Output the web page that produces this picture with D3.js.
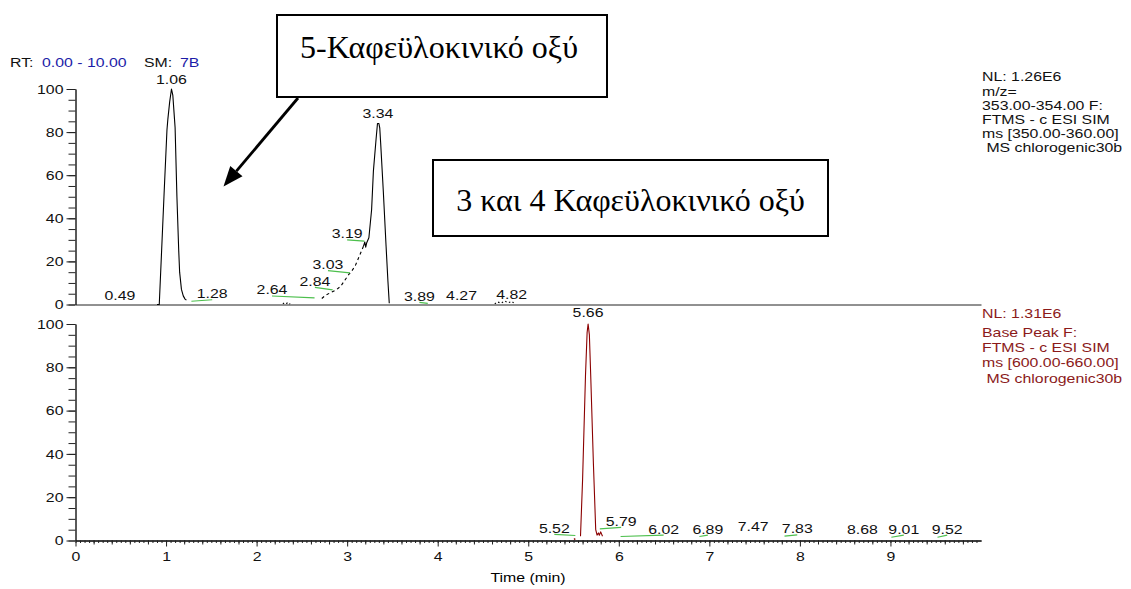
<!DOCTYPE html>
<html><head><meta charset="utf-8">
<script src="https://cdn.jsdelivr.net/npm/d3@7"></script>
<style>body{margin:0;background:#fff}svg{display:block}</style>
</head><body><svg id="c" width="1131" height="589"></svg>
<script>
// ---------------- DATA ----------------
// Top trace (m/z 353-354), relative abundance vs time (min)
const topSolidT = [0.90,0.925,0.95,0.98,1.01,1.02,1.04,1.06,1.075,1.09,1.10,1.12,1.14,1.15,1.17,1.19,1.21,1.225];
const topSolidV = [0,0,24,53,81,86,94,100,97,88,82,50,25,15,7,4,2.5,2];
const topDash1T = [2.29,2.31,2.33,2.35,2.37];
const topDash1V = [0.3,0.9,0.5,1.0,0.2];
const topDash2T = [2.72,2.76,2.82,2.88,2.93,2.97,3.01,3.05,3.09,3.12,3.15,3.18];
const topDash2V = [2.8,4.2,5.6,6.8,8.5,11,13.5,15.5,18,21,24,27];
const topPeak2T = [3.18,3.195,3.205,3.215,3.24,3.27,3.29,3.32,3.335,3.35,3.36,3.37,3.40,3.43,3.45,3.465];
const topPeak2V = [27,29,26.6,28.5,31,44,62,77,84,84,82,75,52,27,11,0.6];
const topDash3T = [4.63,4.66,4.70,4.74,4.78,4.82,4.85];
const topDash3V = [0.3,1.2,0.6,1.6,0.8,1.4,0.3];
// Bottom trace (base peak 600-660)
const botDotT = [5.505,5.52];
const botDotV = [0.5,0.8];
const botT = [5.577,5.60,5.632,5.65,5.661,5.675,5.69,5.72,5.745,5.76,5.775,5.785,5.80,5.82];
const botV = [2,28,76,96,100,95,76,35,5,2.5,3.5,2.4,4,2];
// Peak labels: text, label position (time, abundance), leader start abundance at peak
const topLabelText = ["0.49","1.06","1.28","2.64","2.84","3.03","3.19","3.34","3.89","4.27","4.82"];
const topLabelT    = [0.49,1.06,1.51,2.17,2.644,2.788,3.0,3.34,3.798,4.263,4.816];
const topLabelV    = [2.0,102.5,2.9,4.65,8.65,16.4,30.7,86.5,1.7,2.0,2.47];
const topLeaderV   = [null,null,1.5,3.1,6.8,14.7,29.4,null,0.5,null,null];
const botLabelText = ["5.52","5.66","5.79","6.02","6.89","7.47","7.83","8.68","9.01","9.52"];
const botLabelT    = [5.288,5.66,6.026,6.495,6.983,7.483,7.971,8.69,9.147,9.627];
const botLabelV    = [3.5,103.4,6.8,3.2,3.2,4.3,3.3,2.8,3.2,3.2];
const botLeaderV   = [2.3,null,5.4,1.85,1.85,null,2.0,null,1.5,1.5];
// Axis ticks
const yMajorTicks = [0,20,40,60,80,100];
const xMajorTicks = [0,1,2,3,4,5,6,7,8,9];
// Texts
const topInfo = ["NL: 1.26E6","m/z=","353.00-354.00 F:","FTMS - c ESI SIM","ms [350.00-360.00]"," MS chlorogenic30b"];
const botInfo = ["NL: 1.31E6","Base Peak F:","FTMS - c ESI SIM","ms [600.00-660.00]"," MS chlorogenic30b"];
const box1Text = "5-Καφεϋλοκινικό οξύ";
const box2Text = "3 και 4 Καφεϋλοκινικό οξύ";

// ---------------- DRAW ----------------
const SX = 1.22;
const FONT = "'Liberation Sans', Arial, sans-serif";
const SERIF = "'Liberation Serif', 'Times New Roman', serif";
const BLUE = "#1c1ca8", DARKRED = "#8b1a1a", GREEN = "#4cbf4c", TRACE_RED = "#8b0000";
const svg = d3.select("#c");
const x = d3.scaleLinear().domain([0,10]).range([75.5,981]);
const yT = d3.scaleLinear().domain([0,100]).range([304.5,89]);
const yB = d3.scaleLinear().domain([0,100]).range([540.5,324]);

function txt(px, py, str, color, anchor) {
  return svg.append("text")
    .attr("transform", `translate(${px},${py}) scale(${SX},1)`)
    .attr("text-anchor", anchor || "middle")
    .attr("fill", color || "#000")
    .style("font-family", FONT).style("font-size", "13px")
    .style("white-space", "pre")
    .text(str);
}

function yAxis(yScale) {
  svg.append("g").attr("transform","translate(75.5,0)")
    .call(d3.axisLeft(yScale).tickValues(d3.range(0,101,5)).tickSize(7).tickFormat("").tickSizeOuter(0))
    .call(g => g.selectAll("line,path").attr("stroke","#222"));
  const g = svg.append("g").attr("transform","translate(75.5,0)")
    .call(d3.axisLeft(yScale).tickValues(yMajorTicks).tickSize(9).tickPadding(3).tickSizeOuter(0));
  g.selectAll("line,path").attr("stroke","#222");
  g.selectAll("text").attr("font-family", FONT).attr("font-size", 13).attr("fill","#111")
    .each(function(){ const t = d3.select(this); t.attr("x", (+t.attr("x"))/SX).attr("transform", `scale(${SX},1)`); });
}
yAxis(yT);
yAxis(yB);

// top panel baseline
svg.append("g").attr("transform", `translate(0,${yT(0)})`)
  .call(d3.axisBottom(x).tickValues([]).tickSizeOuter(0))
  .call(g => g.select("path").attr("stroke","#222"));

// bottom x axis with minor/medium/major ticks
const minorTicks = d3.range(0,200).map(i => i*0.05);
const medTicks = d3.range(0,50).map(i => i*0.2).filter(v => Math.abs(v - Math.round(v)) > 1e-6);
svg.append("g").attr("transform", `translate(0,${yB(0)})`)
  .call(d3.axisBottom(x).tickValues(minorTicks).tickSize(2.5).tickFormat("").tickSizeOuter(0))
  .call(g => g.selectAll("line,path").attr("stroke","#222"));
svg.append("g").attr("transform", `translate(0,${yB(0)})`)
  .call(d3.axisBottom(x).tickValues(medTicks).tickSize(4).tickFormat("").tickSizeOuter(0))
  .call(g => g.selectAll("line,path").attr("stroke","#222"));
const xg = svg.append("g").attr("transform", `translate(0,${yB(0)})`)
  .call(d3.axisBottom(x).tickValues(xMajorTicks).tickSize(6).tickPadding(5).tickSizeOuter(0));
xg.selectAll("line,path").attr("stroke","#222");
xg.selectAll("text").attr("font-family", FONT).attr("font-size", 13).attr("fill","#111").attr("transform", `scale(${SX},1)`);

txt(528, 582, "Time (min)");

// traces
function drawLine(T, V, yScale, color, dash, w) {
  const pts = T.map((t,i) => [t, V[i]]);
  svg.append("path").datum(pts)
    .attr("d", d3.line().x(d => x(d[0])).y(d => yScale(d[1])))
    .attr("fill","none").attr("stroke", color).attr("stroke-width", w || 1.1)
    .attr("stroke-linejoin","round")
    .attr("stroke-dasharray", dash || null);
}
drawLine(topSolidT, topSolidV, yT, "#000");
drawLine(topDash1T, topDash1V, yT, "#000", "1.5,2.5");
drawLine(topDash2T, topDash2V, yT, "#000", "3,3");
drawLine(topPeak2T, topPeak2V, yT, "#000");
drawLine(topDash3T, topDash3V, yT, "#000", "1.5,2.5");
drawLine(botDotT, botDotV, yB, TRACE_RED, null, 1.5);
drawLine(botT, botV, yB, TRACE_RED);

// peak labels + leaders
function peakLabels(texts, LT, LV, LeadV, yScale) {
  texts.forEach((s,i) => {
    const lx = x(LT[i]), ly = yScale(LV[i]);
    if (LeadV[i] !== null) {
      svg.append("line")
        .attr("x1", x(+s)).attr("y1", yScale(LeadV[i]))
        .attr("x2", lx).attr("y2", ly + 1.5)
        .attr("stroke", GREEN).attr("stroke-width", 1.2);
    }
    txt(lx, ly, s, "#111");
  });
}
peakLabels(topLabelText, topLabelT, topLabelV, topLeaderV, yT);
peakLabels(botLabelText, botLabelT, botLabelV, botLeaderV, yB);

// header
txt(10, 67, "RT:", "#111", "start");
txt(42, 67, "0.00 - 10.00", BLUE, "start");
txt(144, 67, "SM:", "#111", "start");
txt(180, 67, "7B", BLUE, "start");

// right info
const topInfoY = [80.7, 95.5, 110, 124, 138.3, 152.3];
topInfo.forEach((s,i) => txt(982, topInfoY[i], s, "#111", "start"));
const botInfoY = [318.3, 336.7, 352.3, 366.7, 383.3];
botInfo.forEach((s,i) => txt(982, botInfoY[i], s, DARKRED, "start"));

// annotation boxes
svg.append("rect").attr("x",277).attr("y",15).attr("width",330).attr("height",82)
  .attr("fill","#fff").attr("stroke","#000").attr("stroke-width",2);
svg.append("text").attr("x",439).attr("y",58).attr("text-anchor","middle")
  .style("font-family",SERIF).style("font-size","32px").attr("fill","#000").text(box1Text);
svg.append("rect").attr("x",433).attr("y",160).attr("width",395).attr("height",76)
  .attr("fill","#fff").attr("stroke","#000").attr("stroke-width",2);
svg.append("text").attr("x",630.5).attr("y",211).attr("text-anchor","middle")
  .style("font-family",SERIF).style("font-size","32px").attr("fill","#000").text(box2Text);

// arrow
const a0 = [298, 98], a1 = [223.5, 186.5];
const ang = Math.atan2(a1[1]-a0[1], a1[0]-a0[0]);
const hl = 20, hw = 8;
const bx = a1[0] - hl*Math.cos(ang), by = a1[1] - hl*Math.sin(ang);
svg.append("line").attr("x1",a0[0]).attr("y1",a0[1]).attr("x2",bx).attr("y2",by)
  .attr("stroke","#000").attr("stroke-width",2.8);
svg.append("path").attr("d", `M${a1[0]},${a1[1]} L${bx + hw*Math.sin(ang)},${by - hw*Math.cos(ang)} L${bx - hw*Math.sin(ang)},${by + hw*Math.cos(ang)} Z`)
  .attr("fill","#000");
</script></body></html>
